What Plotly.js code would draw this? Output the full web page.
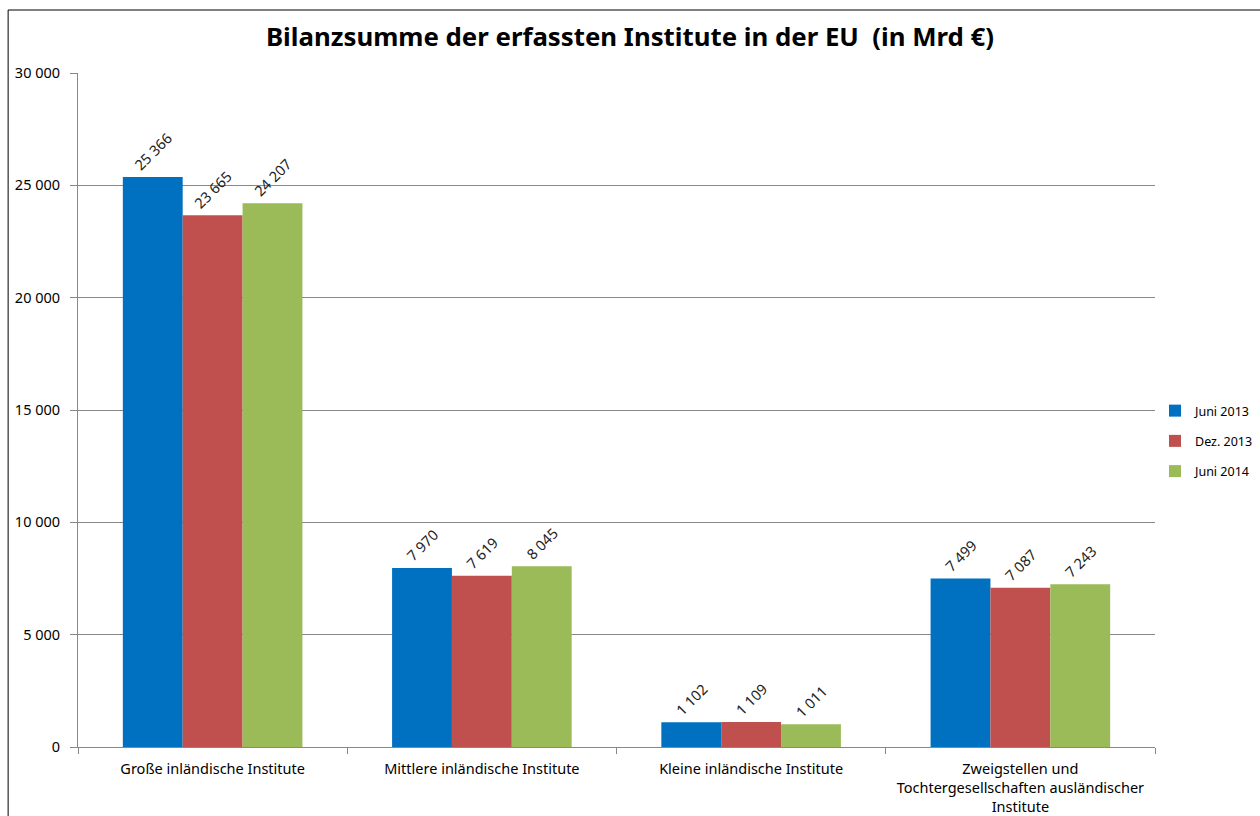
<!DOCTYPE html>
<html>
<head>
<meta charset="utf-8">
<script src="https://cdn.plot.ly/plotly-3.0.1.min.js"></script>
<style>html,body{margin:0;padding:0;background:#fff;overflow:hidden}#chart{width:1260px;height:816px}</style>
</head>
<body>
<div id="chart"></div>
<script>
const categories = [
  "Große inländische Institute",
  "Mittlere inländische Institute",
  "Kleine inländische Institute",
  "Zweigstellen und<br>Tochtergesellschaften ausländischer<br>Institute"
];
const seriesNames = ["Juni 2013", "Dez. 2013", "Juni 2014"];
const juni2013 = [25366, 7970, 1102, 7499];
const dez2013 = [23665, 7619, 1109, 7087];
const juni2014 = [24207, 8045, 1011, 7243];
const colors = ["#0070C0", "#C0504D", "#9BBB59"];
const yTicks = [0, 5000, 10000, 15000, 20000, 25000, 30000];

const font = "Noto Sans, Open Sans, sans-serif";
const allSeries = [juni2013, dez2013, juni2014];
const traces = allSeries.map((vals, i) => ({
  type: "bar",
  name: seriesNames[i],
  x: categories,
  y: vals,
  marker: {color: colors[i]},
  legendgroup: "g" + i,
  texttemplate: "%{y:,}",
  textposition: "outside",
  textangle: -45,
  cliponaxis: false,
  textfont: {family: font, size: 14.5, color: "#222"}
}));

const pxL = 78, pxR = 1157, pxT = 73, pxB = 747;
const pw = pxR - pxL, ph = pxB - pxT;
const layout = {
  width: 1260, height: 816,
  margin: {l: pxL, r: 1260 - pxR, t: pxT, b: 816 - pxB},
  paper_bgcolor: "#fff", plot_bgcolor: "#fff",
  separators: ", ",
  title: {text: "<b>Bilanzsumme der erfassten Institute in der EU  (in Mrd €)</b>", x: 0.5, xanchor: "center", y: 0.955, yanchor: "middle", font: {family: font, size: 25.8, color: "#000"}},
  barmode: "group",
  bargap: 0.333,
  bargroupgap: 0,
  showlegend: true,
  legend: {xref: "container", yref: "container", x: 1155 / 1260, xanchor: "left", y: (816 - 441) / 816, yanchor: "middle", traceorder: "grouped", tracegroupgap: 11, borderwidth: 0, font: {family: font, size: 12.5, color: "#000"}},
  xaxis: {
    type: "category",
    showline: true, linecolor: "#888", linewidth: 1,
    ticks: "outside", tickson: "boundaries", ticklen: 6, tickcolor: "#888",
    ticklabelstandoff: 9,
    tickfont: {family: font, size: 14.5, color: "#000"},
    showgrid: false
  },
  yaxis: {
    range: [0, 30000],
    tickvals: yTicks,
    tickformat: ",",
    showline: true, linecolor: "#888", linewidth: 1,
    ticks: "outside", ticklen: 7, tickcolor: "#888",
    ticklabelstandoff: 7,
    showgrid: true, gridcolor: "#888", gridwidth: 1,
    zeroline: false,
    tickfont: {family: font, size: 14.5, color: "#000"}
  },
  shapes: [
    {type: "line", xref: "paper", yref: "paper", x0: (8 - pxL) / pw, x1: (8 - pxL) / pw, y0: (pxB - 10) / ph, y1: (pxB - 830) / ph, line: {color: "#000", width: 1}},
    {type: "line", xref: "paper", yref: "paper", x0: (8 - pxL) / pw, x1: (1270 - pxL) / pw, y0: (pxB - 10) / ph, y1: (pxB - 10) / ph, line: {color: "#000", width: 1}}
  ]
};
Plotly.newPlot("chart", traces, layout, {displayModeBar: false, staticPlot: true});
</script>
</body>
</html>
